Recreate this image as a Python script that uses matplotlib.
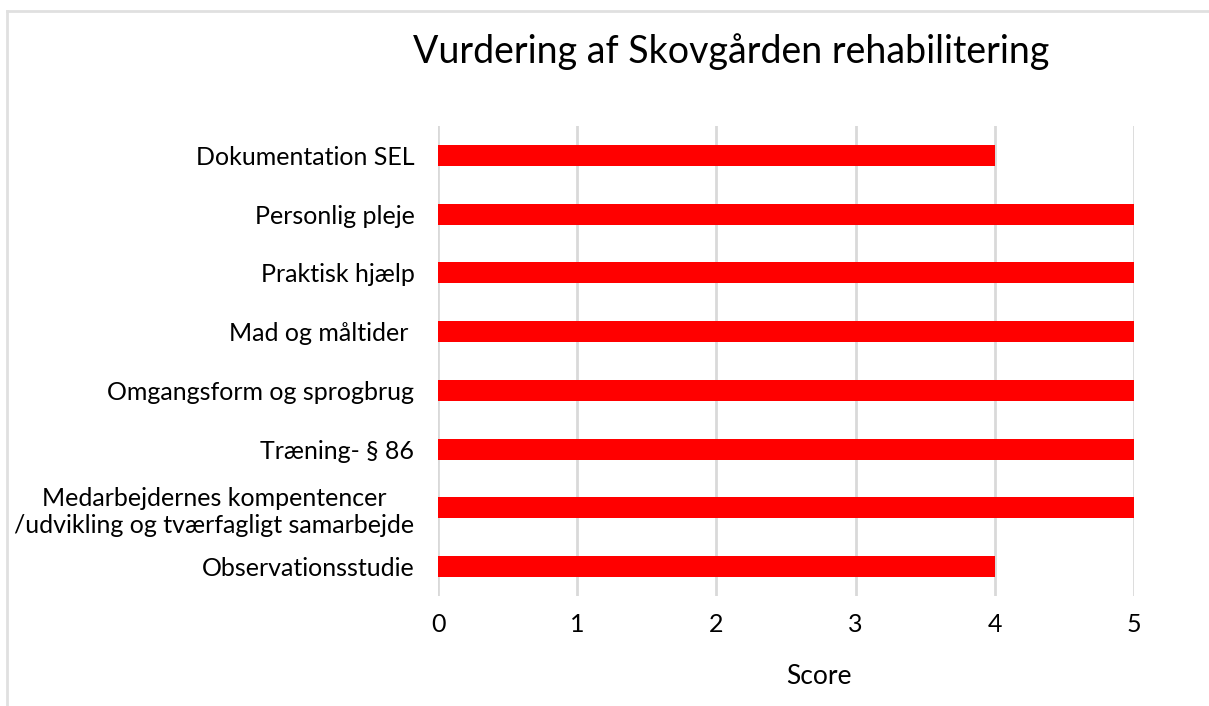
import matplotlib.pyplot as plt
from matplotlib.lines import Line2D

categories = [
    'Dokumentation SEL',
    'Personlig pleje',
    'Praktisk hjælp',
    'Mad og måltider ',
    'Omgangsform og sprogbrug',
    'Træning- § 86',
    'Medarbejdernes kompentencer\n/udvikling og tværfagligt samarbejde',
    'Observationsstudie',
]
scores = [4, 5, 5, 5, 5, 5, 5, 4]
x_ticks = [0, 1, 2, 3, 4, 5]

plt.rcParams['font.family'] = ['Lato', 'DejaVu Sans']

W, H = 1209, 706
fig = plt.figure(figsize=(W / 100, H / 100), dpi=100)
ax = fig.add_axes([438 / W, 1 - 596 / H, (1134 - 438) / W, (596 - 126) / H])

y = list(range(len(categories)))
ax.barh(y, scores, height=0.36, color='#ff0000', zorder=3)
ax.set_ylim(len(categories) - 0.5, -0.5)
ax.set_xlim(0, 5)
ax.set_xticks(x_ticks)
ax.set_yticks(y)
ax.set_yticklabels(categories, fontsize=18, multialignment='center')
ax.tick_params(axis='y', length=0, pad=17)
ax.tick_params(axis='x', length=0, pad=12, labelsize=18)
ax.grid(axis='x', color='#d9d9d9', linewidth=2, zorder=0)
for s in ax.spines.values():
    s.set_visible(False)

fig.text(731 / W, 1 - 52 / H, 'Vurdering af Skovgården rehabilitering',
         fontsize=27, ha='center', va='center')
fig.text(819 / W, 1 - 677 / H, 'Score', fontsize=19, ha='center', va='center')

# light frame on top and left edge
fig.add_artist(Line2D([7 / W, 1], [1 - 11 / H, 1 - 11 / H], color='#e0e0e0', lw=2,
                      transform=fig.transFigure))
fig.add_artist(Line2D([7 / W, 7 / W], [0, 1 - 11 / H], color='#e0e0e0', lw=2,
                      transform=fig.transFigure))

fig.savefig('out.png', dpi=100)
